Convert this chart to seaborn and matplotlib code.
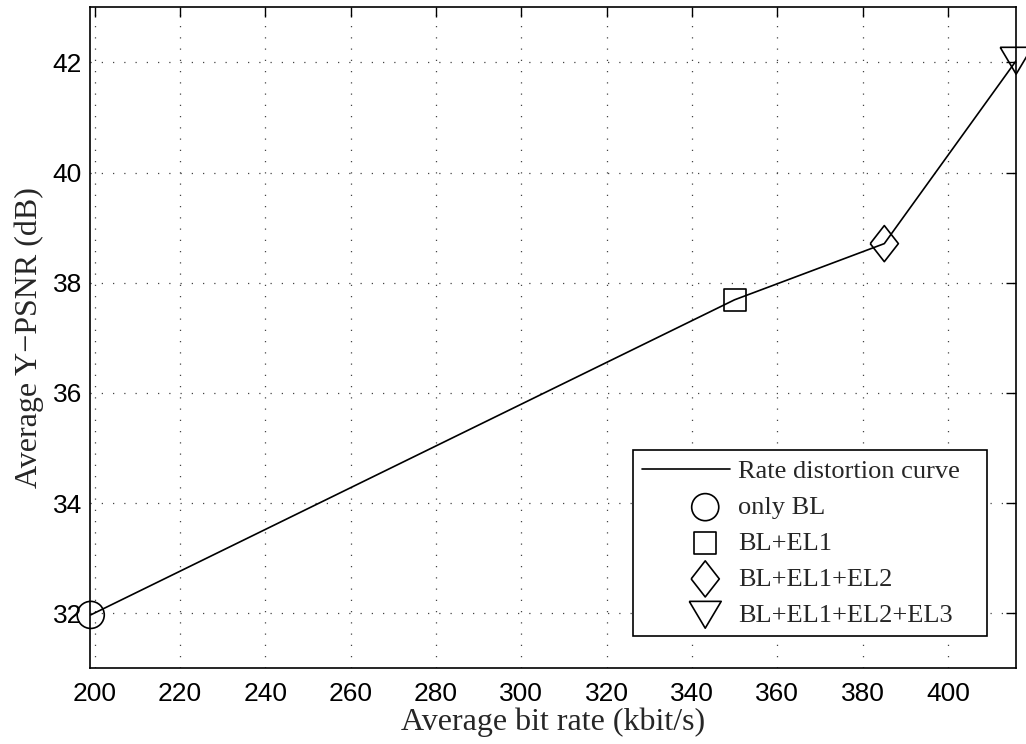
import matplotlib
matplotlib.use("Agg")
import matplotlib.pyplot as plt
from matplotlib.collections import PathCollection
from matplotlib.legend_handler import HandlerPathCollection
import seaborn as sns
import pandas as pd
import numpy as np

# Data
bitrate = [199.1, 350.0, 385.1, 416.0]
psnr = [31.97, 37.69, 38.71, 42.03]
point_labels = ["only BL", "BL+EL1", "BL+EL1+EL2", "BL+EL1+EL2+EL3"]
curve_label = "Rate distortion curve"
xticks = [200, 220, 240, 260, 280, 300, 320, 340, 360, 380, 400]
yticks = [32, 34, 36, 38, 40, 42]

sns.set_theme(style="white")
plt.rcParams["font.family"] = ["Liberation Sans", "DejaVu Sans"]

serif = ["Liberation Serif", "DejaVu Serif"]

# marker shapes (styles)
diamond = [(-0.78, 0), (0, 1), (0.78, 0), (0, -1), (-0.78, 0)]
tri_down = [(-1, 0.84), (1, 0.84), (0, -0.84), (-1, 0.84)]
marker_styles = ["o", "s", diamond, tri_down]
marker_sizes = [19.5, 15.8, 26, 23]

fig = plt.figure(figsize=(10.26, 7.44), dpi=100)
ax = fig.add_axes([0.088, 0.1017, 0.9026, 0.8885])

df = pd.DataFrame({"x": bitrate, "y": psnr})
sns.lineplot(data=df, x="x", y="y", ax=ax, color="black", linewidth=1.2,
             label=curve_label, sort=False, estimator=None)

for xi, yi, lab, m, ms in zip(bitrate, psnr, point_labels, marker_styles, marker_sizes):
    sns.scatterplot(x=[xi], y=[yi], ax=ax, marker=m, s=ms ** 2,
                    facecolors="none", edgecolor="black", linewidth=1.2,
                    label=lab, clip_on=False, zorder=5)

ax.set_xlim(199, 416.05)
ax.set_ylim(31, 43)
ax.set_xticks(xticks)
ax.set_yticks(yticks)
ax.tick_params(direction="in", length=7, width=1, top=True, right=True,
               labelsize=19, colors="black")
ax.tick_params(axis="x", pad=10)
ax.tick_params(axis="y", pad=6)
ax.grid(True, linestyle=(0, (1, 8)), color="#444444", linewidth=0.9)
for s in ax.spines.values():
    s.set_color("black")
    s.set_linewidth(1.2)

ax.set_xlabel("Average bit rate (kbit/s)", fontsize=23, family=serif, labelpad=1)
ax.set_ylabel("Average Y\u2212PSNR (dB)", fontsize=23, family=serif, labelpad=6)

leg = ax.legend(loc="lower left", bbox_to_anchor=(0.5861, 0.049, 0.3823, 0.25),
                mode="expand",
                prop={"family": serif, "size": 19}, frameon=True,
                fancybox=False, edgecolor="black", framealpha=1,
                handlelength=3.33, handletextpad=0.3, labelspacing=0.47,
                borderpad=0.35, borderaxespad=0,
                handler_map={PathCollection: HandlerPathCollection(xpad=1.44)})
leg.get_frame().set_linewidth(1.2)

fig.savefig("out.png", dpi=100)
